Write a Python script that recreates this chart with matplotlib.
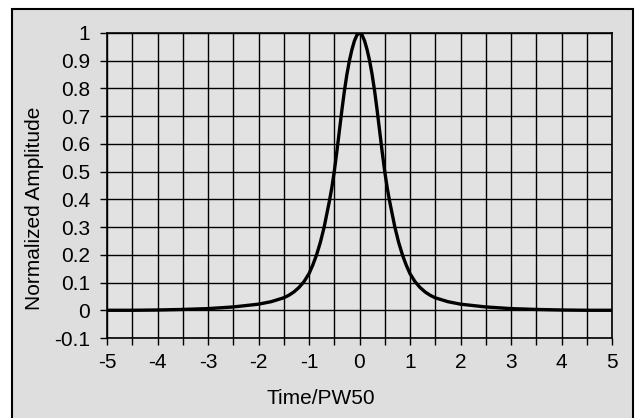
import matplotlib.pyplot as plt
import matplotlib.patches as patches
import numpy as np

plt.rcParams['font.family'] = ['Liberation Sans', 'DejaVu Sans']

# Datos (pulso normalizado, simetrico)
t_half = [0.0, 0.05, 0.1, 0.15, 0.2, 0.25, 0.3, 0.35, 0.4, 0.45, 0.5, 0.55,
          0.6, 0.65, 0.7, 0.775, 0.85, 0.925, 1.0, 1.1, 1.2, 1.3, 1.4, 1.5,
          1.75, 2.0, 2.5, 3.0, 3.5, 4.0, 4.5, 5.0]
amp_half = [1.0, 0.993, 0.972, 0.94, 0.9, 0.85, 0.79, 0.72, 0.645, 0.57, 0.5,
            0.44, 0.39, 0.345, 0.3, 0.245, 0.2, 0.163, 0.132, 0.103, 0.082,
            0.066, 0.054, 0.045, 0.031, 0.022, 0.012, 0.006, 0.003, 0.001,
            0.0, 0.0]

t = [-v for v in t_half[:0:-1]] + t_half
amp = amp_half[:0:-1] + amp_half

x_ticks = [-5, -4, -3, -2, -1, 0, 1, 2, 3, 4, 5]
y_ticks = [-0.1, 0, 0.1, 0.2, 0.3, 0.4, 0.5, 0.6, 0.7, 0.8, 0.9, 1]
y_labels = ['-0.1', '0', '0.1', '0.2', '0.3', '0.4', '0.5', '0.6', '0.7',
            '0.8', '0.9', '1']

W, H = 636, 418
fig = plt.figure(figsize=(W / 100, H / 100), dpi=100)
fig.patch.set_facecolor('white')

# marco exterior con fondo gris
frame = patches.Rectangle((12 / W, -0.02), 621 / W, 1 - 9 / H + 0.02,
                          transform=fig.transFigure, facecolor='#dedede',
                          edgecolor='black', linewidth=1.5, zorder=-5)
fig.patches.append(frame)

ax = fig.add_axes([107 / W, 1 - 338 / H, 505 / W, 305 / H])
ax.set_zorder(2)
ax.set_facecolor('#e2e2e2')

ax.plot(t, amp, color='black', linewidth=2.4, zorder=3)

ax.set_xlim(-5, 5)
ax.set_ylim(-0.1, 1)
x_pos = np.arange(-5, 5.01, 0.5)
ax.set_xticks(x_pos)
ax.set_xticklabels([str(int(v)) if v in x_ticks else '' for v in x_pos])
ax.set_yticks(y_ticks)
ax.set_yticklabels(y_labels)

ax.grid(True, color='black', linewidth=1.0)
for s in ax.spines.values():
    s.set_color('black')
    s.set_linewidth(1.2)

ax.tick_params(axis='both', direction='out', length=5, width=1,
               labelsize=15, colors='black')
ax.tick_params(axis='x', pad=6)
ax.tick_params(axis='y', pad=7)

fig.text(321 / W, 1 - 398 / H, 'Time/PW50', ha='center', va='center',
         fontsize=15)
fig.text(35 / W, 1 - 208 / H, 'Normalized Amplitude', ha='center',
         va='center', rotation=90, fontsize=15)

fig.savefig('out.png', dpi=100)
